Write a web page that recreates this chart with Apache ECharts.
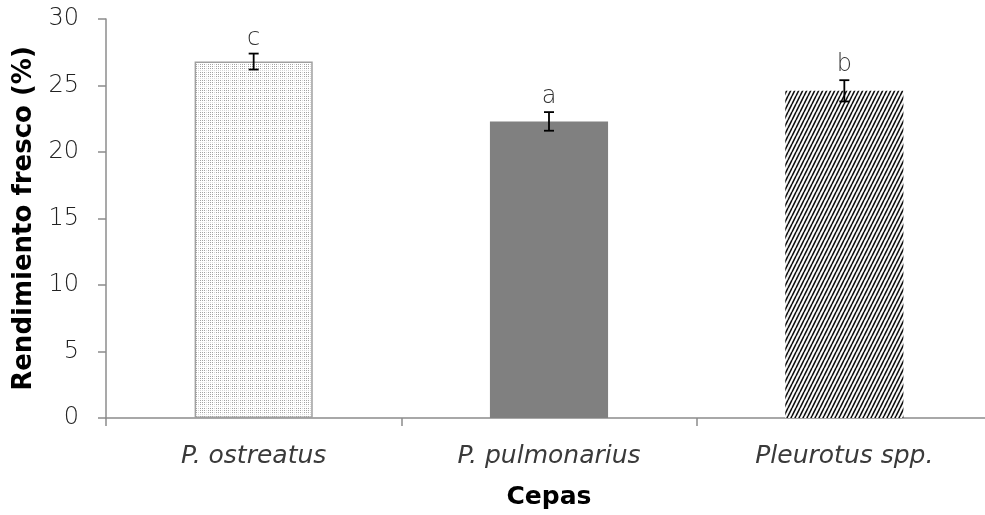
<!DOCTYPE html>
<html>
<head>
<meta charset="utf-8">
<script src="https://cdn.jsdelivr.net/npm/echarts@6/dist/echarts.min.js"></script>
<style>
  html, body { margin: 0; padding: 0; background: #fff; }
  #chart { width: 985px; height: 515px; }
</style>
</head>
<body>
<div id="chart"></div>
<script>
// Rendimiento fresco por cepa
var categories = ['P. ostreatus', 'P. pulmonarius', 'Pleurotus spp.'];
var means = [26.8, 22.3, 24.6];
var errors = [0.6, 0.7, 0.8];
var letters = ['c', 'a', 'b'];
var yTicks = [0, 5, 10, 15, 20, 25, 30];

// Fill patterns drawn on small canvases
function dotPattern() {
  var n = 8;
  var c = document.createElement('canvas');
  c.width = n; c.height = n;
  var g = c.getContext('2d');
  g.fillStyle = '#ffffff';
  g.fillRect(0, 0, n, n);
  for (var y = 0; y < n; y += 2) {
    for (var x = 0; x < n; x += 2) {
      var light = (x % 8 === 6) || (y % 8 === 6);
      g.fillStyle = light ? '#d8d8d8' : '#a4a4a4';
      g.fillRect(x, y, 1, 1);
    }
  }
  return c;
}
function hatchPattern() {
  var w = 4, h = 8;
  var c = document.createElement('canvas');
  c.width = w; c.height = h;
  var g = c.getContext('2d');
  g.fillStyle = '#ffffff';
  g.fillRect(0, 0, w, h);
  g.strokeStyle = '#111111';
  g.lineWidth = 1.6;
  g.beginPath();
  for (var k = -1; k <= 1; k++) {
    g.moveTo(k * w, h);
    g.lineTo(k * w + w, 0);
  }
  g.stroke();
  return c;
}

var barStyles = [
  { color: { image: dotPattern(), repeat: 'repeat' }, borderColor: '#a0a0a0', borderWidth: 1.5 },
  { color: '#808080' },
  { color: { image: hatchPattern(), repeat: 'repeat' } }
];

var barData = means.map(function (v, i) {
  return { value: v, itemStyle: barStyles[i] };
});
var errData = means.map(function (v, i) {
  return [i, v, errors[i]];
});

var chart = echarts.init(document.getElementById('chart'), null, { renderer: 'canvas' });
var labelFont = 'DejaVu Sans';

chart.setOption({
  animation: false,
  grid: { left: 106, top: 19, width: 886, height: 399, containLabel: false, outerBoundsMode: 'none' },
  xAxis: {
    type: 'category',
    data: categories,
    name: 'Cepas',
    nameLocation: 'middle',
    nameGap: 67,
    nameTextStyle: { fontFamily: 'DejaVu Sans', fontWeight: 'bold', fontSize: 25, color: '#000' },
    axisLine: { lineStyle: { color: '#8c8c8c', width: 1.5 } },
    axisTick: { show: true, length: 8, lineStyle: { color: '#8c8c8c', width: 1.5 } },
    axisLabel: { fontFamily: labelFont, fontStyle: 'italic', fontWeight: 200, fontSize: 25, color: '#3a3a3a', margin: 26 }
  },
  yAxis: {
    type: 'value',
    min: 0, max: 30, interval: 5,
    name: 'Rendimiento fresco (%)',
    nameLocation: 'middle',
    nameGap: 63,
    nameTextStyle: { fontFamily: 'DejaVu Sans', fontWeight: 'bold', fontSize: 26, color: '#000' },
    axisLine: { show: true, lineStyle: { color: '#8c8c8c', width: 1.5 } },
    axisTick: { show: true, length: 8, lineStyle: { color: '#8c8c8c', width: 1.5 } },
    splitLine: { show: false },
    axisLabel: {
      fontFamily: labelFont, fontWeight: 200, fontSize: 24, color: '#222', margin: 27,
      formatter: function (v) { return yTicks.indexOf(v) >= 0 ? String(v) : ''; }
    }
  },
  series: [
    {
      type: 'bar',
      data: barData,
      barWidth: '40%'
    },
    {
      type: 'custom',
      data: errData,
      z: 10,
      renderItem: function (params, api) {
        var i = api.value(0), m = api.value(1), e = api.value(2);
        var top = api.coord([i, m + e]);
        var bot = api.coord([i, m - e]);
        var x = top[0], hw = 5;
        var st = { stroke: '#000', lineWidth: 1.8 };
        return {
          type: 'group',
          children: [
            { type: 'line', shape: { x1: x, y1: top[1], x2: x, y2: bot[1] }, style: st },
            { type: 'line', shape: { x1: x - hw, y1: top[1], x2: x + hw, y2: top[1] }, style: st },
            { type: 'line', shape: { x1: x - hw, y1: bot[1], x2: x + hw, y2: bot[1] }, style: st },
            {
              type: 'text',
              style: {
                x: x, y: top[1] - 3,
                text: letters[params.dataIndex],
                textAlign: 'center', textVerticalAlign: 'bottom',
                fontFamily: labelFont, fontWeight: 200, fontSize: 24, fill: '#333'
              }
            }
          ]
        };
      }
    }
  ]
});
</script>
</body>
</html>
